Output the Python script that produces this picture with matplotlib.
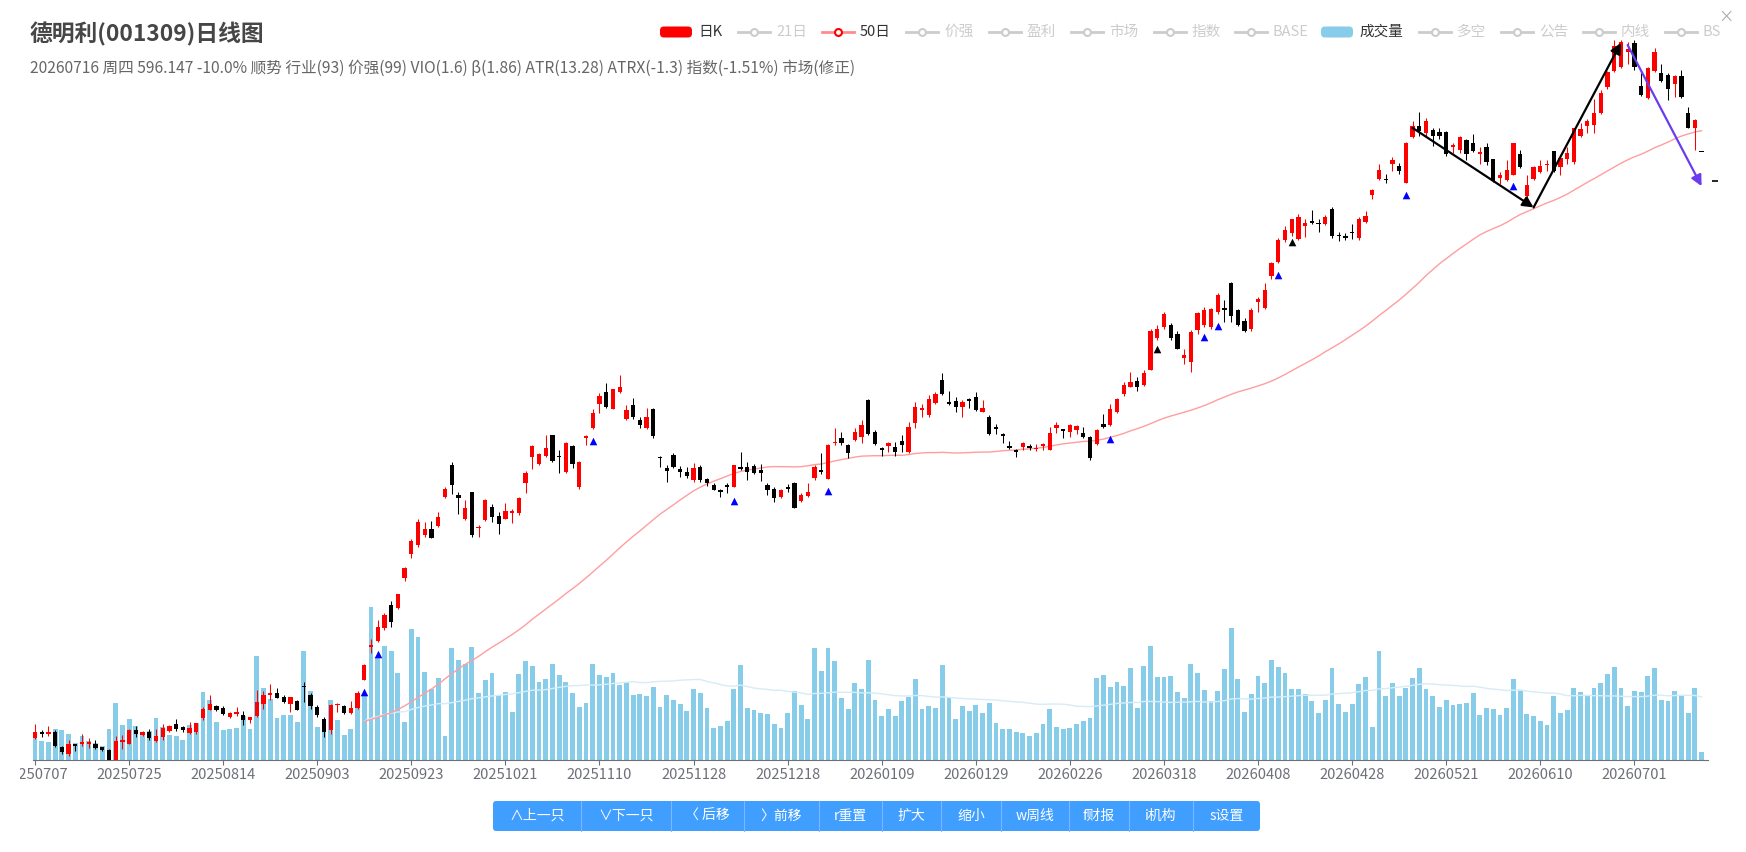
import matplotlib
matplotlib.use("Agg")
import matplotlib.pyplot as plt
from matplotlib.patches import FancyBboxPatch
from matplotlib.transforms import Bbox, TransformedBbox
import numpy as np
import pandas as pd

plt.rcParams['font.family'] = ['Noto Sans CJK SC', 'DejaVu Sans']

W, H = 1746, 852

title = "德明利(001309)日线图"
subtitle = ("20260716 周四 596.147 -10.0% 顺势 行业(93) 价强(99) VIO(1.6) "
            "β(1.86) ATR(13.28) ATRX(-1.3) 指数(-1.51%) 市场(修正)")

tick_labels = ["20250707", "20250725", "20250814", "20250903", "20250923", "20251021",
               "20251110", "20251128", "20251218", "20260109", "20260129", "20260226",
               "20260318", "20260408", "20260428", "20260521", "20260610", "20260701"]

# daily OHLC (price units) and volume
open_ = [
    73.4, 78.5, 76.4, 78.5, 65.6, 59.0, 68.0, 67.4, 68.0, 67.4,
    65.0, 62.6, 53.6, 69.2, 67.4, 80.0, 75.5, 78.5, 70.1, 74.0,
    79.1, 85.4, 83.0, 77.6, 78.5, 91.1, 98.6, 101.9, 100.4, 92.0,
    94.4, 93.5, 89.6, 92.6, 104.0, 111.2, 113.0, 110.0, 104.0, 106.4,
    119.9, 111.5, 101.0, 90.6, 80.2, 102.5, 101.6, 95.1, 100.4, 125.4,
    154.6, 160.0, 171.0, 191.8, 189.7, 216.5, 237.4, 245.4, 254.3, 259.4,
    262.4, 288.6, 316.9, 290.0, 268.6, 292.5, 260.9, 267.7, 279.1, 271.6,
    269.2, 273.7, 273.7, 300.5, 324.3, 317.7, 325.2, 343.7, 324.9, 310.9,
    333.8, 296.9, 340.7, 349.6, 371.9, 382.4, 366.6, 382.4, 358.5, 370.4,
    357.0, 349.6, 366.6, 323.7, 313.9, 325.8, 313.3, 310.9, 303.5, 315.4,
    304.9, 299.0, 295.1, 299.0, 297.5, 315.4, 315.4, 316.3, 312.4, 299.0,
    296.0, 288.0, 297.5, 301.1, 284.7, 289.5, 305.8, 312.4, 304.9, 336.2,
    340.7, 334.7, 339.2, 342.2, 374.9, 346.6, 332.6, 333.8, 333.2, 338.6,
    328.8, 354.1, 366.0, 361.5, 372.5, 392.8, 373.4, 374.3, 368.4, 375.8,
    377.9, 364.5, 360.0, 351.1, 344.5, 333.8, 330.8, 333.2, 333.8, 331.4,
    333.8, 330.3, 349.6, 348.7, 346.6, 348.1, 345.7, 341.6, 335.6, 353.5,
    352.6, 364.5, 380.3, 386.8, 392.2, 388.3, 402.0, 430.6, 440.2, 442.1,
    434.4, 412.5, 408.7, 437.1, 442.1, 440.2, 453.6, 457.5, 479.8, 455.6,
    446.0, 438.3, 462.5, 457.5, 485.5, 498.6, 517.8, 524.0, 519.0, 530.5,
    535.1, 533.2, 532.4, 545.9, 522.8, 521.7, 525.5, 520.1, 534.3, 558.5,
    572.8, 572.8, 585.4, 584.3, 568.9, 610.0, 620.0, 613.1, 615.8, 614.6,
    614.2, 600.7, 598.6, 607.0, 604.1, 594.5, 600.7, 590.3, 573.5, 571.4,
    576.4, 594.5, 556.8, 572.2, 579.0, 584.8, 597.4, 583.1, 590.3, 587.3,
    611.2, 619.6, 620.9, 630.9, 654.4, 668.6, 672.0, 685.4, 693.8, 655.2,
    644.7, 668.6, 666.9, 665.7, 657.3, 664.4, 630.9, 617.5, 596.1,
]
high = [
    86.0, 80.0, 83.6, 80.0, 66.5, 71.0, 68.0, 76.4, 73.1, 71.0,
    65.6, 63.5, 74.9, 75.5, 81.5, 83.6, 79.4, 81.5, 81.5, 86.0,
    84.5, 89.9, 83.6, 87.5, 86.6, 101.0, 111.5, 103.1, 101.6, 96.5,
    101.0, 97.4, 92.0, 116.0, 115.4, 121.1, 118.1, 111.5, 110.0, 107.0,
    123.5, 113.0, 102.5, 92.1, 104.0, 104.6, 102.5, 106.4, 115.3, 139.1,
    161.2, 178.4, 184.4, 195.7, 201.6, 226.1, 250.5, 269.2, 266.2, 267.1,
    275.2, 296.9, 319.8, 293.0, 285.6, 293.0, 263.3, 286.2, 282.6, 275.2,
    283.5, 277.3, 288.6, 311.5, 334.7, 327.3, 343.7, 344.2, 330.3, 337.7,
    334.7, 320.7, 343.7, 366.6, 381.5, 390.4, 385.3, 397.2, 370.4, 376.4,
    360.0, 367.5, 367.5, 324.9, 316.9, 327.3, 316.0, 315.4, 318.9, 316.9,
    305.8, 300.5, 296.0, 300.5, 316.9, 328.8, 319.8, 318.3, 318.3, 300.5,
    297.5, 296.0, 299.9, 302.0, 291.6, 300.5, 316.9, 327.3, 335.6, 349.6,
    346.6, 335.6, 349.6, 357.0, 375.5, 348.1, 333.2, 337.7, 337.7, 343.7,
    355.6, 373.4, 371.9, 379.4, 382.4, 398.7, 383.2, 377.3, 374.9, 376.4,
    382.4, 374.9, 361.5, 353.5, 345.7, 338.6, 331.7, 337.7, 335.6, 335.6,
    336.8, 350.5, 355.6, 348.7, 353.5, 352.6, 350.5, 342.8, 348.7, 362.1,
    371.9, 376.4, 391.3, 400.2, 395.7, 401.7, 438.3, 442.1, 453.6, 444.0,
    436.3, 421.0, 437.1, 453.6, 458.2, 457.5, 470.2, 464.0, 480.5, 456.3,
    447.9, 457.5, 467.1, 479.4, 498.6, 519.7, 530.5, 536.3, 540.9, 536.3,
    544.7, 536.3, 540.1, 547.8, 525.5, 524.0, 532.4, 538.2, 544.0, 563.9,
    586.2, 576.6, 592.0, 587.0, 605.4, 624.6, 632.3, 626.6, 617.7, 617.5,
    615.4, 604.9, 611.2, 608.3, 612.5, 600.7, 604.1, 590.3, 579.0, 589.0,
    604.9, 598.6, 575.6, 584.0, 589.0, 589.0, 597.4, 592.4, 600.7, 618.3,
    622.5, 625.9, 643.5, 651.9, 668.6, 696.3, 696.3, 695.0, 696.3, 666.9,
    672.0, 689.6, 675.3, 666.9, 665.7, 669.9, 636.4, 625.9, 596.1,
]
low = [
    72.5, 74.0, 74.6, 65.0, 59.0, 57.5, 61.4, 66.5, 64.4, 63.5,
    62.0, 53.0, 53.0, 63.5, 67.4, 74.0, 74.6, 71.6, 69.5, 71.6,
    78.5, 79.4, 78.8, 76.4, 76.4, 89.6, 98.0, 97.4, 94.1, 90.8,
    92.6, 84.5, 86.6, 92.0, 99.5, 107.0, 108.5, 104.6, 96.5, 98.0,
    105.5, 99.5, 92.0, 74.2, 77.2, 96.6, 94.5, 94.5, 99.5, 124.8,
    148.7, 159.0, 169.5, 172.5, 188.8, 213.6, 233.5, 243.9, 252.8, 251.4,
    261.2, 287.1, 291.0, 273.1, 267.7, 252.8, 252.8, 267.1, 266.2, 255.8,
    268.6, 264.8, 272.2, 291.6, 313.3, 316.9, 324.3, 319.8, 309.4, 309.4,
    313.9, 296.0, 334.7, 348.7, 363.6, 367.5, 366.6, 381.5, 357.6, 358.5,
    349.6, 348.7, 340.7, 315.4, 302.0, 313.9, 306.4, 305.8, 302.0, 302.0,
    298.1, 294.5, 288.6, 291.6, 296.9, 312.4, 303.5, 308.8, 302.6, 290.0,
    284.1, 287.1, 293.0, 278.2, 284.1, 288.6, 303.5, 308.8, 304.9, 334.7,
    334.7, 322.8, 338.6, 336.8, 343.7, 334.7, 324.9, 328.8, 324.9, 328.8,
    327.3, 349.6, 360.0, 360.0, 371.9, 379.4, 370.4, 364.5, 360.0, 367.5,
    365.4, 364.5, 343.7, 345.1, 336.2, 331.4, 323.7, 330.3, 330.3, 329.7,
    330.3, 330.3, 345.7, 340.7, 342.2, 345.1, 340.7, 321.3, 334.7, 349.6,
    351.7, 363.0, 378.5, 386.2, 383.2, 387.7, 401.7, 428.7, 438.3, 428.7,
    420.2, 407.5, 399.8, 434.4, 440.2, 438.3, 451.7, 444.8, 444.8, 441.0,
    435.6, 436.3, 453.6, 456.7, 483.2, 497.8, 516.3, 521.7, 517.8, 520.9,
    532.4, 525.5, 531.3, 519.7, 517.0, 517.8, 519.0, 517.8, 533.2, 554.7,
    571.6, 568.9, 579.3, 576.6, 568.9, 609.3, 611.2, 611.2, 601.6, 608.3,
    593.2, 595.7, 595.7, 589.0, 596.6, 586.1, 584.8, 569.3, 568.1, 570.6,
    575.6, 581.9, 555.5, 571.4, 577.7, 579.8, 579.0, 575.6, 586.1, 586.1,
    610.0, 613.3, 613.3, 630.1, 653.1, 667.8, 671.1, 675.3, 669.9, 646.8,
    643.9, 667.8, 659.4, 642.6, 646.0, 644.7, 617.5, 598.6, 596.1,
]
close = [
    78.5, 77.0, 78.5, 66.5, 60.5, 68.0, 66.5, 69.5, 69.5, 64.1,
    62.6, 53.6, 70.1, 71.0, 80.6, 77.0, 78.5, 73.1, 74.9, 82.1,
    83.6, 81.2, 80.6, 82.4, 86.6, 99.5, 104.0, 98.0, 95.0, 95.6,
    96.8, 89.6, 92.0, 105.5, 111.5, 113.6, 109.1, 105.5, 109.4, 98.6,
    119.0, 101.9, 93.6, 78.7, 102.5, 104.0, 95.1, 100.4, 113.5, 138.2,
    156.1, 171.9, 182.9, 176.9, 201.4, 225.2, 249.3, 266.2, 259.4, 251.4,
    270.7, 296.0, 299.0, 287.1, 278.8, 254.3, 261.8, 285.6, 270.7, 264.2,
    275.8, 276.1, 287.1, 310.0, 333.8, 326.7, 332.6, 320.7, 323.7, 336.2,
    317.7, 319.8, 342.8, 363.0, 378.5, 369.0, 385.3, 386.2, 366.0, 360.0,
    352.6, 360.0, 342.8, 322.8, 311.8, 314.8, 310.9, 307.0, 313.9, 303.5,
    300.5, 295.1, 293.0, 297.5, 316.9, 313.3, 310.9, 310.0, 309.4, 294.5,
    287.1, 295.1, 296.0, 278.7, 290.0, 293.0, 315.4, 310.9, 334.7, 337.7,
    336.2, 327.3, 346.6, 352.6, 345.1, 335.6, 330.8, 336.2, 328.8, 334.7,
    350.5, 369.0, 368.1, 375.5, 380.3, 380.3, 371.9, 369.0, 373.4, 374.3,
    366.0, 367.5, 344.5, 348.7, 342.8, 332.6, 328.8, 336.8, 332.6, 332.6,
    335.6, 345.7, 352.6, 347.5, 352.6, 351.7, 342.2, 322.8, 348.1, 350.5,
    366.6, 375.5, 388.3, 391.3, 386.8, 398.7, 436.3, 438.3, 451.7, 430.6,
    421.0, 415.2, 435.6, 452.5, 455.6, 456.7, 469.0, 455.6, 449.8, 442.1,
    436.3, 455.6, 465.2, 473.6, 497.8, 517.8, 526.6, 536.3, 538.2, 533.2,
    533.2, 532.4, 538.2, 521.7, 521.7, 520.1, 524.0, 537.0, 539.0, 562.4,
    580.4, 571.6, 589.3, 579.3, 604.7, 620.0, 615.0, 624.6, 611.2, 611.2,
    594.5, 602.8, 610.0, 594.5, 597.4, 596.6, 587.3, 570.6, 576.4, 580.6,
    604.1, 583.1, 567.2, 583.1, 584.0, 586.1, 579.8, 591.5, 595.7, 617.5,
    616.7, 624.6, 630.9, 648.9, 667.8, 690.8, 695.0, 688.7, 672.8, 647.7,
    671.1, 685.4, 660.2, 653.1, 664.4, 645.6, 618.3, 625.0, 596.1,
]
volume = [
    20.9, 16.1, 15.2, 27.4, 25.9, 23.2, 14.9, 20.9, 16.4, 14.3,
    11.9, 26.8, 50.1, 31.0, 36.4, 29.8, 24.4, 25.3, 36.7, 28.9,
    21.8, 20.6, 17.0, 30.7, 32.8, 60.2, 53.0, 33.4, 25.9, 26.8,
    27.7, 38.7, 26.8, 92.4, 63.5, 53.6, 37.0, 39.3, 39.9, 33.7,
    96.6, 61.1, 29.2, 24.7, 53.0, 35.7, 21.7, 27.1, 47.0, 57.5,
    136.3, 91.7, 101.5, 96.8, 76.8, 33.6, 116.1, 109.6, 78.3, 62.8,
    73.2, 21.1, 99.7, 88.7, 85.1, 100.6, 59.5, 71.4, 77.4, 57.5,
    60.4, 42.0, 76.2, 87.8, 83.7, 68.8, 71.7, 85.1, 75.3, 68.8,
    59.5, 47.0, 50.6, 85.7, 75.9, 73.8, 76.8, 66.4, 69.4, 57.5,
    58.9, 56.6, 64.9, 47.0, 57.5, 53.0, 49.4, 43.2, 63.4, 59.8,
    46.1, 27.7, 30.1, 34.2, 63.4, 84.8, 46.4, 44.1, 41.7, 40.5,
    31.3, 28.3, 41.7, 61.3, 48.5, 36.0, 99.7, 78.9, 99.7, 88.1,
    54.5, 45.5, 67.9, 63.4, 88.7, 53.0, 39.0, 44.7, 38.7, 52.4,
    55.4, 72.3, 45.5, 47.9, 46.1, 84.2, 55.1, 36.6, 47.6, 43.2,
    49.1, 41.7, 50.6, 32.2, 26.8, 26.8, 24.7, 23.8, 20.8, 23.8,
    31.3, 45.5, 28.6, 26.8, 28.3, 31.3, 34.2, 37.2, 73.2, 75.3,
    64.9, 68.8, 65.8, 81.9, 46.1, 83.4, 101.2, 73.7, 73.7, 74.9,
    60.3, 54.5, 85.2, 76.8, 62.2, 51.8, 61.4, 80.6, 117.1, 72.2,
    42.2, 58.7, 74.9, 68.0, 89.1, 82.5, 77.5, 63.3, 63.3, 58.7,
    51.8, 41.5, 53.0, 81.4, 49.9, 42.2, 49.9, 67.2, 73.7, 28.8,
    97.1, 56.8, 68.3, 56.8, 64.1, 72.9, 81.4, 63.3, 56.8, 47.3,
    53.2, 49.0, 49.4, 50.3, 59.5, 39.8, 46.1, 44.8, 39.8, 46.1,
    72.1, 62.0, 40.6, 38.5, 34.4, 30.6, 56.6, 41.1, 44.0, 64.1,
    59.9, 56.6, 64.1, 68.3, 76.7, 83.0, 64.1, 48.2, 61.6, 59.9,
    74.6, 81.7, 53.2, 52.4, 61.6, 56.6, 41.9, 64.1, 7.1,
]

# signal markers (bar index, price)
buy_idx = [49, 51, 83, 104, 118, 160, 174, 176, 185, 204, 220]
buy_px = [114, 148, 338, 285, 294, 340, 431, 441, 487, 558, 566]
mark_idx = [167, 187]
mark_px = [421, 516]

# wave lines (bar index, price)
wave_idx = [205, 223, 236]
wave_px = [618, 547, 694]
proj_idx = [237, 248]
proj_px = [692, 566]
target_idx = [250]
target_px = [570.6]

legend_labels = ["日K", "21日", "50日", "价强", "盈利", "市场", "指数", "BASE",
                 "成交量", "多空", "公告", "内线", "BS"]
legend_kind = ["rect", "line", "line", "line", "line", "line", "line", "line",
               "rect", "line", "line", "line", "line"]
legend_on = [True, False, True, False, False, False, False, False,
             True, False, False, False, False]
legend_x = [660, 738, 822, 906, 989, 1071, 1154, 1235, 1321, 1419, 1501, 1583, 1665]

buttons = ["∧上一只", "∨下一只", "〈 后移", "〉前移", "r重置", "扩大", "缩小",
           "w周线", "f财报", "i机构", "s设置"]
button_edges = [493, 581, 671, 744, 819, 882, 941, 1001, 1069, 1129, 1193, 1260]

RED = "#ff0000"
VOLC = "#87cdea"

df = pd.DataFrame({"open": open_, "high": high, "low": low, "close": close, "vol": volume})
df["ma50"] = df["close"].rolling(50).mean()
df["vma50"] = df["vol"].rolling(50).mean()
x = np.arange(len(df))

fig = plt.figure(figsize=(W / 100, H / 100), dpi=100)
fig.patch.set_facecolor("white")

# chart area in pixels
left, right, top, bottom = 33, 1708.3, 40, 759.5
rect = [left / W, 1 - bottom / H, (right - left) / W, (bottom - top) / H]
k = 0.893  # price units per pixel

axv = fig.add_axes(rect)
ax = fig.add_axes(rect, sharex=axv)
ax.patch.set_visible(False)

# volume
axv.bar(x, df["vol"], width=0.72, color=VOLC, linewidth=0, zorder=2)
axv.plot(x, df["vma50"], color="#d6ecf7", lw=1.0, zorder=3)
axv.set_ylim(0, (bottom - top) * k)
axv.set_xlim(-0.3, 249.0)

# candles
up = df["close"] > df["open"]
colors = np.where(up, RED, "black")
ax.vlines(x, df["low"], df["high"], colors=colors, lw=0.75, zorder=3)
body_lo = np.minimum(df["open"], df["close"])
body_h = np.maximum((df["close"] - df["open"]).abs(), 1.0)
ax.bar(x, body_h, bottom=body_lo, width=0.64, color=colors, linewidth=0, zorder=4)
ax.plot(x, df["ma50"], color="#ff9e9e", lw=1.0, zorder=2)

ax.scatter(buy_idx, buy_px, marker="^", s=30, color="#0000ff", zorder=5, linewidths=0)
ax.scatter(mark_idx, mark_px, marker="^", s=30, color="black", zorder=5, linewidths=0)
ax.scatter(target_idx, target_px, marker="_", s=20, color="black", zorder=5,
           linewidths=1.2, clip_on=False)

for i in range(len(wave_idx) - 1):
    ax.annotate("", xy=(wave_idx[i + 1], wave_px[i + 1]), xytext=(wave_idx[i], wave_px[i]),
                arrowprops=dict(arrowstyle="-|>", color="black", lw=1.6,
                                mutation_scale=16, shrinkA=0, shrinkB=0), zorder=6)
ax.annotate("", xy=(proj_idx[1], proj_px[1]), xytext=(proj_idx[0], proj_px[0]),
            arrowprops=dict(arrowstyle="-|>", color="#6a3cf0", lw=1.6,
                            mutation_scale=16, shrinkA=0, shrinkB=0), zorder=6)

ax.set_ylim(54, 54 + (bottom - top) * k)
ax.axis("off")

for s in ["top", "right", "left"]:
    axv.spines[s].set_visible(False)
axv.spines["bottom"].set_color("#6e7079")
axv.set_yticks([])
tick_pos = list(range(0, 14 * len(tick_labels), 14))
axv.set_xticks(tick_pos, tick_labels)
axv.tick_params(axis="x", length=3.6, color="#6e7079", labelcolor="#6e7079",
                labelsize=10.6, pad=2.5)
clip = TransformedBbox(Bbox.from_extents(20 / W, 0, 1, 1), fig.transFigure)
lab0 = axv.xaxis.get_major_ticks()[0].label1
lab0.set_clip_box(clip)
lab0.set_clip_on(True)

# overlay in pixel coordinates
ov = fig.add_axes([0, 0, 1, 1])
ov.set_xlim(0, W)
ov.set_ylim(H, 0)
ov.axis("off")
ov.patch.set_visible(False)
renderer = fig.canvas.get_renderer()

t = ov.text(30, 34, title, fontsize=16, fontweight="bold", color="#464646", va="center")
t.set_fontsize(16 * 235 / t.get_window_extent(renderer).width)
t = ov.text(30, 68, subtitle, fontsize=11, color="#666666", va="center")
t.set_fontsize(11 * 826 / t.get_window_extent(renderer).width)

# legend
leg_y = 32
for lx, lab, kind, on in zip(legend_x, legend_labels, legend_kind, legend_on):
    if kind == "rect":
        c = RED if lab == "日K" else VOLC
        ov.add_patch(FancyBboxPatch((lx, leg_y - 5.5), 32, 11,
                                    boxstyle="round,pad=0,rounding_size=4",
                                    color=c, linewidth=0))
    else:
        c = "#ff8c8c" if on else "#cccccc"
        ec = RED if on else "#cccccc"
        ov.plot([lx, lx + 32], [leg_y, leg_y], color=c, lw=2)
        ov.plot(lx + 16, leg_y, "o", mfc="white", mec=ec, ms=5, mew=1.5)
    ov.text(lx + 38, leg_y, lab, fontsize=10.5, va="center",
            color="#333333" if on else "#cccccc")

ov.text(1726, 17, "×", fontsize=11, color="#aaaaaa", ha="center", va="center")

# buttons
bx0, bx1, by0, by1 = button_edges[0], button_edges[-1], 801, 831
ov.add_patch(FancyBboxPatch((bx0, by0), bx1 - bx0, by1 - by0,
                            boxstyle="round,pad=0,rounding_size=3",
                            color="#409eff", linewidth=0))
for i, b in enumerate(buttons):
    x0, x1 = button_edges[i], button_edges[i + 1]
    ov.text((x0 + x1) / 2, (by0 + by1) / 2, b, fontsize=10, color="white",
            ha="center", va="center")
    if i > 0:
        ov.plot([x0, x0], [by0, by1], color="#7ab8ff", lw=0.8)

fig.savefig("out.png", dpi=100)
